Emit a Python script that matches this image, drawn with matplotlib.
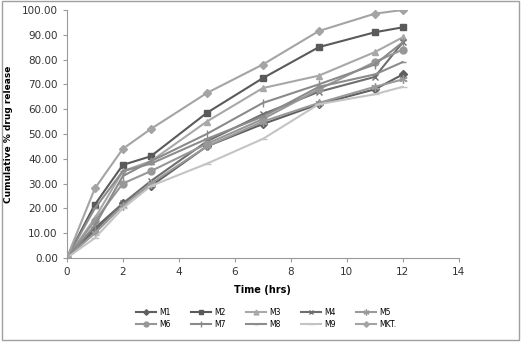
import matplotlib.pyplot as plt
from matplotlib.patches import Rectangle

time_hrs = [0, 1, 2, 3, 5, 7, 9, 11, 12]

m1 = [0, 12.0, 22.0, 29.0, 45.0, 54.0, 62.0, 68.0, 74.0]
m2 = [0, 21.5, 37.5, 41.0, 58.5, 72.5, 85.0, 91.0, 93.0]
m3 = [0, 16.0, 35.0, 39.0, 55.0, 68.5, 73.5, 83.0, 89.0]
m4 = [0, 11.0, 22.0, 31.0, 47.0, 58.0, 67.0, 73.0, 87.0]
m5 = [0, 10.0, 21.0, 30.0, 45.0, 55.0, 62.5, 69.0, 72.0]
m6 = [0, 15.0, 30.0, 35.0, 46.0, 56.0, 68.0, 79.0, 84.0]
m7 = [0, 13.0, 33.0, 39.0, 50.0, 62.5, 70.0, 78.0, 87.0]
m8 = [0, 20.0, 35.0, 38.0, 48.0, 57.0, 69.0, 74.0, 79.0]
m9 = [0, 8.0, 20.0, 29.0, 38.0, 48.0, 62.0, 66.0, 69.0]
mkt = [0, 28.0, 44.0, 52.0, 66.5, 78.0, 91.5, 98.5, 100.0]

series = [
    ("M1", m1, "#5f5f5f", "D", 4),
    ("M2", m2, "#5a5a5a", "s", 5),
    ("M3", m3, "#a8a8a8", "^", 5),
    ("M4", m4, "#6e6e6e", "x", 5),
    ("M5", m5, "#9a9a9a", (6, 2, 0), 6),
    ("M6", m6, "#979797", "o", 5),
    ("M7", m7, "#8a8a8a", "|", 6),
    ("M8", m8, "#8c8c8c", "_", 5),
    ("M9", m9, "#c4c4c4", "_", 6),
    ("MKT.", mkt, "#a4a4a4", "D", 4),
]

fig = plt.figure(figsize=(5.22, 3.43), dpi=100)
ax = fig.add_axes([0.128, 0.248, 0.751, 0.723])

lines = []
for name, vals, col, mk, ms in series:
    ln, = ax.plot(time_hrs, vals, color=col, marker=mk, markersize=ms, lw=1.5,
                  markeredgecolor=col, markerfacecolor=col, label=name)
    lines.append(ln)

ax.set_xlim(0, 14)
ax.set_ylim(0, 100)
ax.set_xticks(range(0, 15, 2))
ax.set_yticks(range(0, 101, 10))
ax.set_yticklabels([f"{v:.2f}" for v in range(0, 101, 10)])
for s in ("top", "right"):
    ax.spines[s].set_visible(False)
for s in ("left", "bottom"):
    ax.spines[s].set_color("#9a9a9a")
ax.tick_params(labelsize=7.5, colors="#9a9a9a", labelcolor="#333333",
               length=3, direction="out")
ax.set_xlabel("Time (hrs)", fontsize=7, fontweight="bold", labelpad=6)
ax.set_ylabel("Cumulative % drug release", fontsize=6.5, fontweight="bold",
              labelpad=6)

# legend fills by column, so interleave to get M1..M5 on the top row
order = [0, 5, 1, 6, 2, 7, 3, 8, 4, 9]
fig.legend([lines[i] for i in order], [series[i][0] for i in order],
           loc="center", bbox_to_anchor=(0.51, 0.072), ncol=5, fontsize=5.5,
           frameon=False, handlelength=2.6, columnspacing=2.6, markerscale=0.7,
           labelspacing=0.35, handletextpad=0.5)

fig.patches.append(Rectangle((0.003, 0.008), 0.992, 0.988, transform=fig.transFigure,
                             fill=False, edgecolor="#a0a0a0", lw=1))

plt.savefig("out.png", dpi=100)
